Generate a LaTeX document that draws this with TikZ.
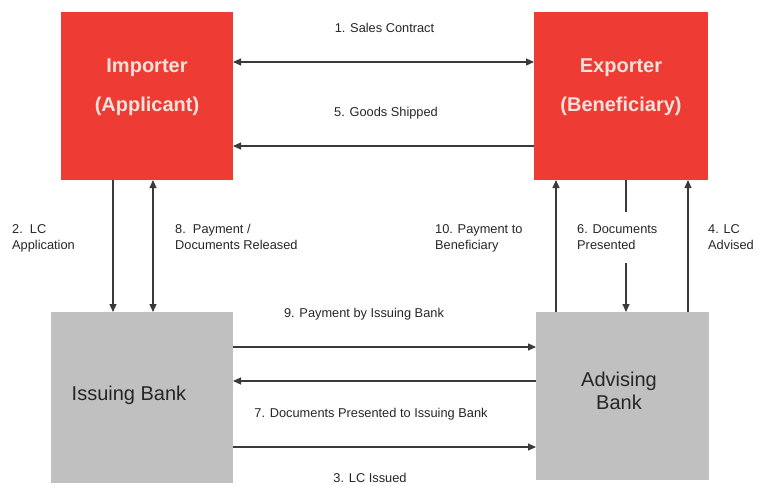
\documentclass[tikz,border=0pt]{standalone}
\usepackage{fontspec}
\setmainfont{Liberation Sans}
\usetikzlibrary{arrows.meta}
\definecolor{partyred}{HTML}{EE3B33}
\definecolor{partytext}{HTML}{F6E2DC}
\definecolor{bankgrey}{HTML}{C0C0C0}
\definecolor{flowline}{HTML}{3A3A3A}
\begin{document}
\begin{tikzpicture}[x=1pt, y=-1pt, >={Triangle[length=8pt,width=7pt]},
                    party/.style={fill=partyred, inner sep=0pt, outer sep=0pt},
                    bank/.style={fill=bankgrey, inner sep=0pt, outer sep=0pt},
                    partyname/.style={text=partytext, align=center, font=\fontsize{20}{39}\selectfont\bfseries},
                    bankname/.style={text=black!85, align=center, font=\fontsize{20}{23}\selectfont},
                    flow/.style={draw=flowline, line width=1.1pt},
                    flowtext/.style={text=black!85, inner sep=0pt, font=\fontsize{12.8}{16}\selectfont}]
\useasboundingbox (0,0) rectangle (757,485);

% the four parties
\node[party, minimum width=172pt, minimum height=168pt] (imp) at (147,96) {};
\node[party, minimum width=174pt, minimum height=168pt] (exp) at (621,96) {};
\node[bank, minimum width=182pt, minimum height=171pt] (isb) at (142,397.5) {};
\node[bank, minimum width=173pt, minimum height=168pt] (adv) at (622.5,396) {};

\node[partyname] (impname) at (147,87) {Importer\\(Applicant)};
\node[partyname] (expname) at (621,87) {Exporter\\(Beneficiary)};
\node[bankname] (isbname) at (129,395) {Issuing Bank};
\node[bankname] (advname) at (619,391) {Advising\\Bank};

% gap in the documents line
\coordinate (docsgap1) at (626,212);
\coordinate (docsgap2) at (626,263);

% flows
\draw[flow, <->] (imp.east |- 0,62) -- (exp.west |- 0,62);
\draw[flow, <-] (imp.east |- 0,146) -- (exp.west |- 0,146);
\draw[flow, ->] (imp.south -| 113,0) -- (isb.north -| 113,0);
\draw[flow, <->] (imp.south -| 153,0) -- (isb.north -| 153,0);
\draw[flow, <-] (exp.south -| 556,0) -- (adv.north -| 556,0);
\draw[flow] (exp.south -| docsgap1) -- (docsgap1);
\draw[flow, ->] (docsgap2) -- (adv.north -| docsgap2);
\draw[flow, <-] (exp.south -| 688,0) -- (adv.north -| 688,0);
\draw[flow, ->] (isb.east |- 0,347) -- (adv.west |- 0,347);
\draw[flow, <-] (isb.east |- 0,381) -- (adv.west |- 0,381);
\draw[flow, ->] (isb.east |- 0,447) -- (adv.west |- 0,447);

% step labels
\node[flowtext, anchor=base] (sales) at (384.5,32) {1. Sales Contract};
\node[flowtext, anchor=base] (shipped) at (386,116) {5. Goods Shipped};
\node[flowtext, anchor=base] (paybank) at (364,317) {9. Payment by Issuing Bank};
\node[flowtext, anchor=base] (docsbank) at (371,417) {7. Documents Presented to Issuing Bank};
\node[flowtext, anchor=base] (issued) at (370,482) {3. LC Issued};

\node[flowtext, anchor=north west, align=left] (applic) at (12,224) {2.\ \ LC\\Application};
\node[flowtext, anchor=north west, align=left] (released) at (175,224) {8.\ \ Payment /\\Documents Released};
\node[flowtext, anchor=north west, align=left] (paybenef) at (435,224) {10. Payment to\\Beneficiary};
\node[flowtext, anchor=north west, align=left] (presented) at (577,224) {6. Documents\\Presented};
\node[flowtext, anchor=north west, align=left] (advised) at (708,224) {4. LC\\Advised};
\end{tikzpicture}
\end{document}
